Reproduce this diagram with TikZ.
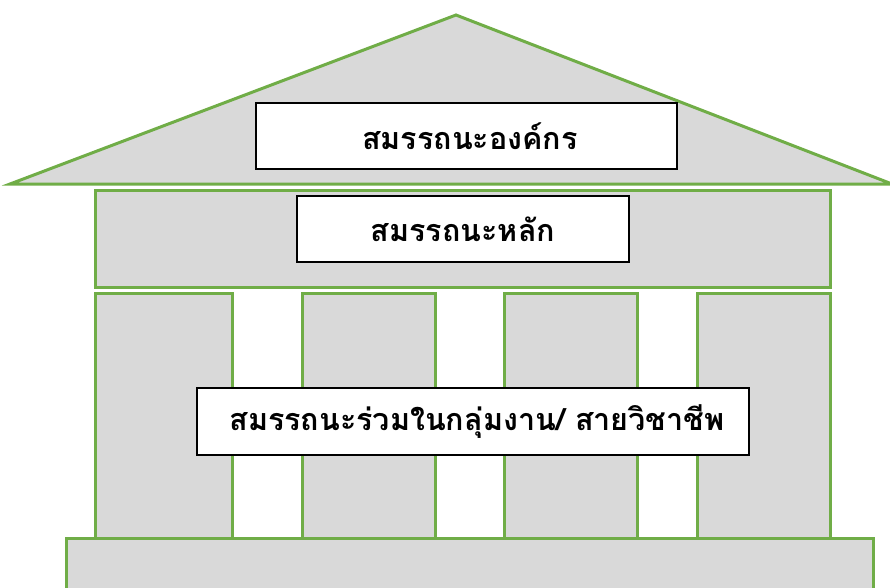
\documentclass[tikz,border=0pt]{standalone}
\usepackage{fontspec}
\newfontfamily\thaifont[Script=Thai]{Loma}
\definecolor{pgreen}{HTML}{70AD47}
\definecolor{pgray}{HTML}{D9D9D9}
\tikzset{
  part/.style={draw=pgreen, fill=pgray, line width=3pt, line join=miter},
  label/.style={draw=black, fill=white, line width=1.5pt, inner sep=0pt, font=\thaifont\bfseries\fontsize{30.5}{36}\selectfont}
}
\begin{document}
\begin{tikzpicture}[x=1pt,y=-1pt]
\useasboundingbox (0,0) rectangle (890,587);
% roof
\draw[part] (10,184) -- (456,15) -- (892,184) -- cycle;
% band
\draw[part] (95,190) rectangle (830,287);
% pillars
\draw[part] (95,293) rectangle (232,540);
\draw[part] (302,293) rectangle (435,540);
\draw[part] (504,293) rectangle (637,540);
\draw[part] (697,293) rectangle (830,540);
% base
\draw[part] (66,538) rectangle (873,600);
% labels
\node[label, minimum width=421pt, minimum height=66pt] (org) at (466.5,136) {};
\node[font=\thaifont\bfseries\fontsize{30.5}{36}\selectfont] (orgt) at (470,136) {สมรรถนะองค์กร};
\node[label, minimum width=332pt, minimum height=66pt] (core) at (463,229) {};
\node[font=\thaifont\bfseries\fontsize{30.5}{36}\selectfont] (coret) at (463,229) {สมรรถนะหลัก};
\node[label, minimum width=552pt, minimum height=67pt] (func) at (473,421.5) {};
\node[font=\thaifont\bfseries\fontsize{30.5}{36}\selectfont] (funct) at (477,421.5) {สมรรถนะร่วมในกลุ่มงาน/ สายวิชาชีพ};
\end{tikzpicture}
\end{document}
